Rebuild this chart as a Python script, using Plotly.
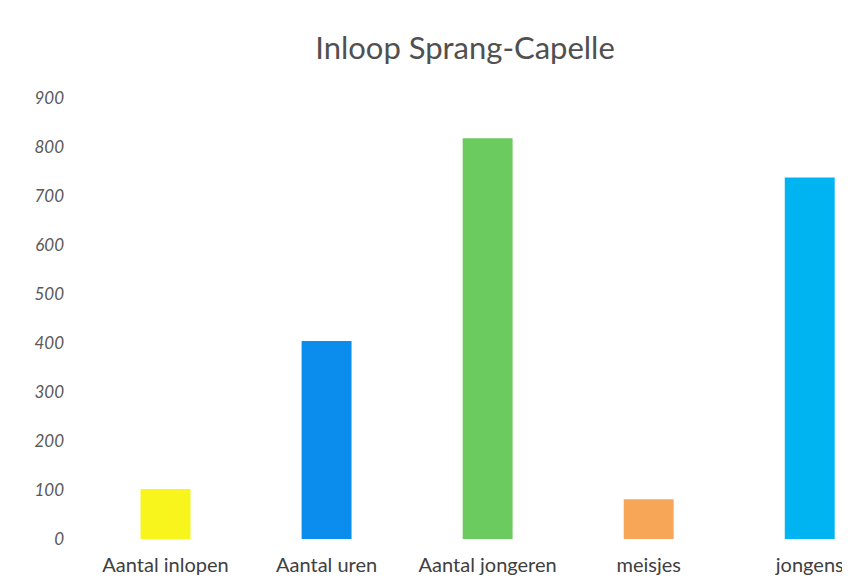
import plotly.graph_objects as go

categories = ["Aantal inlopen", "Aantal uren", "Aantal jongeren", "meisjes", "jongens"]
values = [102, 404, 818, 81, 738]
colors = ["#F8F51C", "#0A8DEC", "#6CCB5E", "#F7A658", "#00B4F2"]
y_ticks = [0, 100, 200, 300, 400, 500, 600, 700, 800, 900]

fig = go.Figure(go.Bar(x=categories, y=values, marker=dict(color=colors, line=dict(width=0)), width=0.31))

W, H = 842, 570
fig.update_layout(
    width=W, height=H,
    margin=dict(l=77, r=0, t=90, b=39),
    paper_bgcolor="white", plot_bgcolor="white",
    showlegend=False,
    font=dict(family="Lato, Open Sans, sans-serif", color="#404040"),
    title=dict(text="Inloop Sprang-Capelle", x=457/W, xanchor="center", y=1 - 40/H, yanchor="middle",
               font=dict(size=31, color="#505050", family="Lato, Open Sans, sans-serif")),
)
fig.update_xaxes(range=[-0.5, 4.25], showgrid=False, showline=False, zeroline=False, ticks="",
                 tickfont=dict(size=20, color="#404040"), ticklabelstandoff=12, automargin=False)
fig.update_yaxes(range=[0, 900], tickvals=y_ticks, showgrid=False, showline=False, zeroline=False, ticks="",
                 tickfont=dict(size=17, color="#595959", style="italic"), ticklabelstandoff=20, automargin=False)

fig.write_html("out.html")
